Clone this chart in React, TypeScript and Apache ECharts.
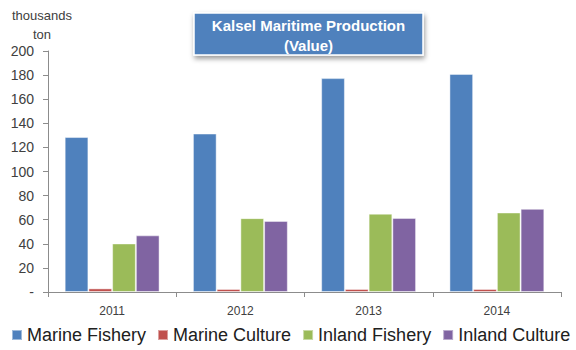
import React, { useEffect, useRef } from "react";
import * as echarts from "echarts";

const years = ["2011", "2012", "2013", "2014"];
const marineFishery = [128.6, 131.5, 177.5, 181];
const marineCulture = [3, 2.5, 2.5, 2.5];
const inlandFishery = [40.3, 61.3, 65, 66];
const inlandCulture = [47, 59, 61.5, 69];
const yTicks = [0, 20, 40, 60, 80, 100, 120, 140, 160, 180, 200];

const FONT = "'Liberation Sans', Arial, sans-serif";

export default function App() {
  const ref = useRef<HTMLDivElement>(null);

  useEffect(() => {
    if (!ref.current) return;
    const chart = echarts.init(ref.current, null, { renderer: "svg" });
    const bar = (name: string, data: number[], color: string) => ({
      name,
      type: "bar",
      data,
      barGap: "0%",
      barCategoryGap: "26%",
      itemStyle: { color, borderColor: "rgba(255,255,255,0.45)", borderWidth: 1 },
    });
    chart.setOption({
      animation: false,
      textStyle: { fontFamily: FONT },
      color: ["#4F81BD", "#C0504D", "#9BBB59", "#8064A2"],
      grid: { left: 48, right: 15, top: 51, bottom: 58, containLabel: false },
      graphic: [
        {
          type: "text",
          x: 42,
          y: 25,
          style: {
            text: "thousands\nton",
            align: "center",
            verticalAlign: "middle",
            fill: "#404040",
            font: `13px ${FONT}`,
            lineHeight: 19,
          },
        },
        {
          type: "rect",
          shape: { x: 194, y: 13, width: 229, height: 42 },
          style: {
            fill: "#4F81BD",
            stroke: "#ffffff",
            lineWidth: 1.5,
            shadowBlur: 5,
            shadowOffsetX: 1,
            shadowOffsetY: 3,
            shadowColor: "rgba(0,0,0,0.4)",
          },
        },
        {
          type: "text",
          x: 308.5,
          y: 35,
          style: {
            text: "Kalsel Maritime Production\n(Value)",
            align: "center",
            verticalAlign: "middle",
            fill: "#ffffff",
            font: `bold 15px ${FONT}`,
            lineHeight: 20,
          },
        },
      ],
      legend: {
        left: 11,
        top: 326,
        width: 565,
        padding: 0,
        itemWidth: 10,
        itemHeight: 10,
        itemGap: 11,
        icon: "rect",
        textStyle: { fontSize: 18, color: "#202020", fontFamily: FONT },
        data: ["Marine Fishery", "Marine Culture", "Inland Fishery", "Inland Culture"],
      },
      xAxis: {
        type: "category",
        data: years,
        axisLine: { lineStyle: { color: "#8c8c8c" } },
        axisTick: { show: true, interval: 0, alignWithLabel: false, length: 5, lineStyle: { color: "#8c8c8c" } },
        axisLabel: { color: "#404040", fontSize: 12, margin: 13 },
      },
      yAxis: {
        type: "value",
        min: yTicks[0],
        max: yTicks[yTicks.length - 1],
        interval: 20,
        splitLine: { show: false },
        axisLine: { show: true, lineStyle: { color: "#8c8c8c" } },
        axisTick: { show: true, length: 5, lineStyle: { color: "#8c8c8c" } },
        axisLabel: {
          color: "#404040",
          fontSize: 14,
          margin: 14,
          formatter: (v: number) => (v === 0 ? "-" : String(v)),
        },
      },
      series: [
        bar("Marine Fishery", marineFishery, "#4F81BD"),
        bar("Marine Culture", marineCulture, "#C0504D"),
        bar("Inland Fishery", inlandFishery, "#9BBB59"),
        bar("Inland Culture", inlandCulture, "#8064A2"),
      ],
    });
    return () => chart.dispose();
  }, []);

  return (
    <div
      ref={ref}
      style={{ position: "fixed", left: 0, top: 0, width: 576, height: 350, background: "#fff" }}
    />
  );
}
